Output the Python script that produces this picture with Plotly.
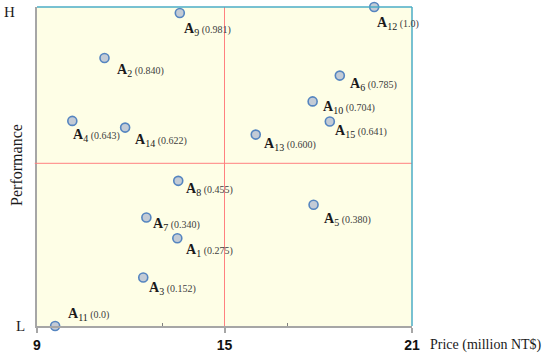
import plotly.graph_objects as go

# ---- data ----
names = ["1", "2", "3", "4", "5", "6", "7", "8", "9", "10", "11", "12", "13", "14", "15"]
price = [13.49, 11.16, 12.40, 10.13, 17.85, 18.69, 12.50, 13.52, 13.57, 17.82, 9.58, 19.79, 16.00, 11.82, 18.37]
performance = [0.275, 0.840, 0.152, 0.643, 0.380, 0.785, 0.340, 0.455, 0.981, 0.704, 0.0, 1.0, 0.600, 0.622, 0.641]
perf_labels = ["0.275", "0.840", "0.152", "0.643", "0.380", "0.785", "0.340", "0.455", "0.981", "0.704", "0.0", "1.0", "0.600", "0.622", "0.641"]
price_ticks = [9, 15, 21]
price_minor_ticks = [13, 17]
price_split = 15
perf_split = 0.51

# label offsets in pixels (style only)
label_dx = [7, 10, 4, -1, 8, 8, 5, 6, 2, 8, 11, 1, 6, 8, 3]
label_dy = [-12, -12, -11, -15, -15, -9, -7, -9, -16, -6, 12, -16, -10, -13, -10]

fig = go.Figure()

fig.add_trace(go.Scatter(
    x=price, y=performance, mode="markers",
    marker=dict(size=9, color="#c3cbd6", line=dict(color="#5585c0", width=1.6)),
    cliponaxis=False, showlegend=False, hoverinfo="skip",
))

for i in range(len(names)):
    fig.add_annotation(
        x=price[i], y=performance[i], xref="x", yref="y",
        text=("<b>A</b><sub><span style='font-size:10px'>%s</span></sub>"
              "<span style='font-size:10px;color:#404040'> (%s)</span>") % (names[i], perf_labels[i]),
        showarrow=False, xanchor="left", yanchor="middle",
        xshift=label_dx[i], yshift=label_dy[i],
        font=dict(family="Liberation Serif", size=14, color="#1a1a1a"),
    )

# quadrant split lines
fig.add_shape(type="line", xref="x", yref="y", x0=price_split, x1=price_split, y0=-0.01, y1=1.0,
              line=dict(color="#ff8080", width=1))
fig.add_shape(type="line", xref="paper", yref="y", x0=-0.006, x1=1, y0=perf_split, y1=perf_split,
              line=dict(color="#ff8080", width=1))
# top / right border
fig.add_shape(type="line", xref="paper", yref="paper", x0=0, x1=1, y0=1, y1=1,
              line=dict(color="#4bacc6", width=1.5))
fig.add_shape(type="line", xref="paper", yref="paper", x0=1, x1=1, y0=0, y1=1,
              line=dict(color="#4bacc6", width=1.5))

txt_font = dict(family="Liberation Serif", size=15, color="#1a1a1a")
fig.add_annotation(text="Performance", xref="paper", yref="paper", x=0, y=0.505,
                   xanchor="center", yanchor="middle",
                   xshift=-20, textangle=-90, showarrow=False,
                   font=dict(family="Liberation Serif", size=16, color="#1a1a1a"))
fig.add_annotation(text="H", xref="paper", yref="paper", x=0, y=0.984, xshift=-28,
                   xanchor="center", yanchor="middle", showarrow=False, font=txt_font)
fig.add_annotation(text="L", xref="paper", yref="paper", x=0, y=0, xshift=-17,
                   xanchor="center", yanchor="middle", showarrow=False, font=txt_font)
fig.add_annotation(text="Price (million NT$)", xref="paper", yref="paper", x=1, y=0,
                   xanchor="left", yanchor="middle", xshift=16, yshift=-19,
                   showarrow=False, font=dict(family="Liberation Serif", size=14, color="#1a1a1a"))

fig.update_layout(
    width=550, height=359,
    margin=dict(l=37, r=138, t=7, b=33),
    paper_bgcolor="white", plot_bgcolor="#fefee6",
    showlegend=False,
    xaxis=dict(range=[9, 21], tickvals=price_ticks, ticks="outside", ticklen=5,
               tickcolor="#a6a6a6", tickwidth=1.5, showgrid=False, zeroline=False,
               showline=True, linecolor="#a6a6a6", linewidth=1.5,
               tickfont=dict(family="Liberation Sans", size=14, color="#111111", weight="bold"),
               minor=dict(tickvals=price_minor_ticks, ticks="inside", ticklen=3,
                          tickcolor="#808080", tickwidth=1, showgrid=False)),
    yaxis=dict(range=[0, 1], showticklabels=False, ticks="", showgrid=False, zeroline=False,
               showline=True, linecolor="#a6a6a6", linewidth=1.5),
)

fig.write_html("out.html", config={"displayModeBar": False},
               post_script="document.body.style.margin='0px';document.body.style.overflow='hidden';")
